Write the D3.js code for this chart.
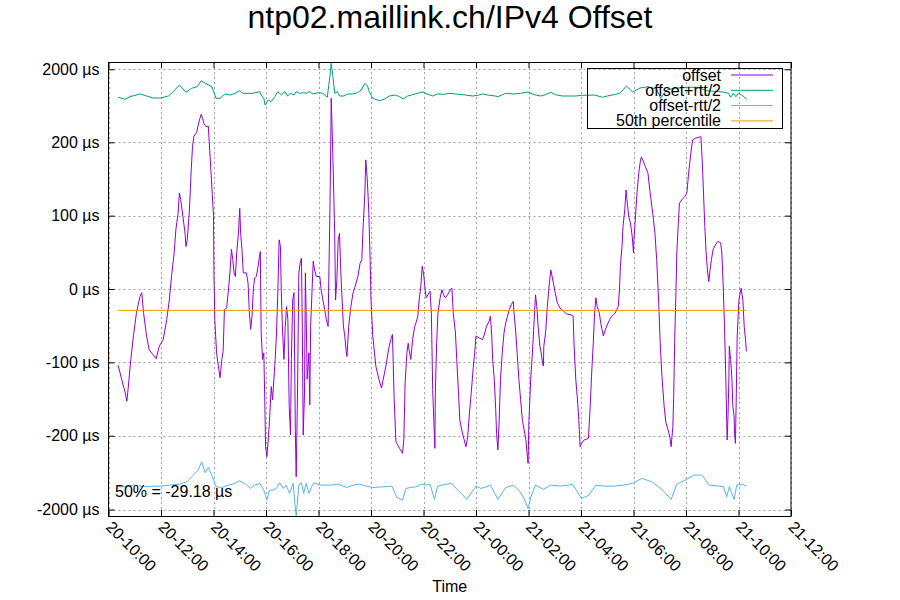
<!DOCTYPE html>
<html><head><meta charset="utf-8">
<script src="https://cdn.jsdelivr.net/npm/d3@7"></script>
<style>body{margin:0;background:#fff}svg{display:block;font-family:"Liberation Sans",Arial,sans-serif}</style>
</head><body><svg id="c" width="900" height="600"></svg>
<script>
const title = "ntp02.maillink.ch/IPv4 Offset";
const xLabel = "Time";
const xStart = "20 10:00", xEnd = "21 12:00";
const yTickValues = [-2000, -200, -100, 0, 100, 200, 2000];
const yTickLabels = ["-2000 µs", "-200 µs", "-100 µs", "0 µs", "100 µs", "200 µs", "2000 µs"];
const medianValue = -29.18;
const medianLabel = "50% = -29.18 µs";
const seriesNames = ["offset", "offset+rtt/2", "offset-rtt/2", "50th percentile"];
const seriesColors = ["#9400d3", "#009e73", "#56b4e9", "#e69f00"];

const offsetTimes = ["20 10:22","20 10:30","20 10:38","20 10:42","20 10:45","20 10:51","20 10:57","20 11:04","20 11:12","20 11:16","20 11:20","20 11:27","20 11:33","20 11:41","20 11:49","20 11:56","20 12:05","20 12:13","20 12:19","20 12:24","20 12:30","20 12:34","20 12:39","20 12:42","20 12:45","20 12:50","20 12:55","20 12:57","20 13:00","20 13:05","20 13:09","20 13:12","20 13:15","20 13:22","20 13:25","20 13:29","20 13:32","20 13:35","20 13:38","20 13:43","20 13:48","20 13:50","20 13:54","20 13:57","20 14:00","20 14:01","20 14:03","20 14:07","20 14:11","20 14:15","20 14:19","20 14:22","20 14:25","20 14:30","20 14:35","20 14:38","20 14:41","20 14:44","20 14:47","20 14:50","20 14:53","20 14:57","20 15:00","20 15:02","20 15:05","20 15:08","20 15:15","20 15:19","20 15:22","20 15:25","20 15:28","20 15:31","20 15:34","20 15:38","20 15:42","20 15:45","20 15:47","20 15:49","20 15:52","20 15:55","20 15:57","20 15:59","20 16:02","20 16:05","20 16:08","20 16:12","20 16:15","20 16:18","20 16:21","20 16:24","20 16:27","20 16:30","20 16:33","20 16:35","20 16:38","20 16:41","20 16:44","20 16:47","20 16:50","20 16:53","20 16:56","20 16:58","20 17:01","20 17:04","20 17:07","20 17:09","20 17:12","20 17:15","20 17:18","20 17:21","20 17:23","20 17:25","20 17:28","20 17:30","20 17:32","20 17:34","20 17:38","20 17:40","20 17:42","20 17:45","20 17:48","20 17:51","20 17:55","20 18:03","20 18:06","20 18:10","20 18:14","20 18:18","20 18:22","20 18:23","20 18:26","20 18:28","20 18:29","20 18:31","20 18:34","20 18:37","20 18:39","20 18:42","20 18:45","20 18:48","20 18:51","20 18:54","20 18:57","20 19:00","20 19:03","20 19:05","20 19:09","20 19:14","20 19:19","20 19:24","20 19:30","20 19:35","20 19:39","20 19:42","20 19:46","20 19:48","20 19:51","20 19:53","20 19:55","20 19:58","20 20:00","20 20:04","20 20:08","20 20:11","20 20:18","20 20:24","20 20:28","20 20:34","20 20:40","20 20:45","20 20:49","20 20:53","20 20:57","20 21:05","20 21:12","20 21:15","20 21:18","20 21:22","20 21:25","20 21:27","20 21:31","20 21:35","20 21:40","20 21:43","20 21:47","20 21:50","20 21:54","20 21:57","20 22:00","20 22:03","20 22:06","20 22:10","20 22:15","20 22:18","20 22:21","20 22:24","20 22:26","20 22:27","20 22:30","20 22:33","20 22:38","20 22:42","20 22:46","20 22:50","20 22:55","20 23:01","20 23:05","20 23:08","20 23:13","20 23:16","20 23:20","20 23:23","20 23:28","20 23:33","20 23:37","20 23:41","20 23:45","20 23:49","20 23:54","20 23:57","21 00:00","21 00:08","21 00:15","21 00:20","21 00:24","21 00:30","21 00:33","21 00:36","21 00:38","21 00:42","21 00:45","21 00:47","21 00:50","21 00:53","21 00:56","21 01:00","21 01:04","21 01:08","21 01:12","21 01:16","21 01:21","21 01:25","21 01:27","21 01:31","21 01:34","21 01:38","21 01:42","21 01:46","21 01:50","21 01:54","21 01:56","21 01:59","21 02:01","21 02:05","21 02:09","21 02:13","21 02:16","21 02:19","21 02:22","21 02:26","21 02:29","21 02:32","21 02:34","21 02:35","21 02:39","21 02:43","21 02:47","21 02:51","21 02:54","21 02:57","21 03:01","21 03:06","21 03:12","21 03:20","21 03:27","21 03:37","21 03:42","21 03:44","21 03:48","21 03:52","21 03:55","21 03:58","21 04:01","21 04:07","21 04:17","21 04:21","21 04:24","21 04:28","21 04:31","21 04:34","21 04:37","21 04:42","21 04:45","21 04:48","21 04:51","21 04:56","21 05:00","21 05:05","21 05:09","21 05:14","21 05:18","21 05:22","21 05:25","21 05:28","21 05:30","21 05:34","21 05:36","21 05:40","21 05:43","21 05:45","21 05:49","21 05:53","21 05:57","21 06:00","21 06:01","21 06:04","21 06:08","21 06:12","21 06:16","21 06:18","21 06:21","21 06:27","21 06:33","21 06:38","21 06:44","21 06:49","21 06:53","21 06:58","21 07:01","21 07:05","21 07:10","21 07:14","21 07:19","21 07:23","21 07:26","21 07:30","21 07:32","21 07:34","21 07:37","21 07:39","21 07:42","21 07:45","21 07:51","21 07:57","21 08:02","21 08:06","21 08:11","21 08:15","21 08:21","21 08:29","21 08:34","21 08:37","21 08:40","21 08:43","21 08:46","21 08:49","21 08:52","21 08:55","21 08:58","21 09:02","21 09:07","21 09:13","21 09:19","21 09:22","21 09:25","21 09:28","21 09:31","21 09:33","21 09:34","21 09:36","21 09:38","21 09:39","21 09:42","21 09:45","21 09:47","21 09:50","21 09:51","21 09:53","21 09:55","21 09:57","21 10:01","21 10:04","21 10:06","21 10:10","21 10:13","21 10:16","21 10:18"];
const offsetValues = [-104,-123,-141,-153,-135,-96,-64,-32,-10,-5,-32,-64,-83,-89,-95,-78,-69,-42,-15,17,49,81,103,131,122,99,76,58,67,108,162,194,338,461,627,792,890,792,668,585,602,257,162,131,99,22,-42,-87,-105,-121,-96,-85,-28,-26,4,26,54,40,22,17,49,76,110,76,54,22,22,8,-33,-55,-37,-1,15,17,31,44,51,-60,-96,-87,-146,-469,-713,-305,-179,-133,-151,-123,-96,-60,-5,67,58,-5,-60,-96,-51,-24,-42,-160,-199,-96,-15,-5,-192,-1202,-142,22,35,42,-51,-199,-142,22,-42,-123,-87,-158,-51,-5,38,26,17,17,-1,-15,-28,-42,-51,-5,103,196,1285,585,153,76,-15,13,67,76,22,-15,-51,-64,-83,-92,-51,-24,-5,4,17,35,40,85,131,176,153,131,103,40,-15,-64,-87,-105,-123,-135,-123,-105,-83,-69,-62,-151,-347,-508,-630,-305,-128,-87,-74,-83,-96,-69,-51,-46,-37,-15,4,31,22,4,-12,-8,-3,-33,-137,-187,-508,-142,-74,-33,-12,-1,-8,-12,-8,-1,1,-33,-60,-96,-142,-179,-194,-305,-469,-224,-169,-142,-105,-87,-64,-67,-69,-60,-51,-44,-37,-64,-96,-125,-164,-197,-547,-179,-123,-87,-60,-46,-37,-28,-21,-17,-33,-60,-87,-123,-151,-179,-192,-305,-547,-875,-179,-123,-87,-42,-8,-24,-51,-78,-87,-101,-105,-78,-60,-24,4,26,17,8,-5,-19,-26,-30,-34,-35,-37,-74,-123,-151,-179,-469,-386,-305,-264,-160,-119,-74,-33,-12,-24,-33,-46,-55,-64,-55,-49,-42,-38,-35,-33,-28,-24,-1,31,60,85,108,135,122,99,90,72,49,67,94,131,158,176,180,176,167,158,131,103,76,40,-24,-74,-119,-160,-182,-192,-224,-469,-187,-142,-74,-5,49,85,117,122,126,131,158,185,257,299,323,338,176,131,85,49,26,10,26,40,54,60,65,63,49,4,-51,-123,-179,-305,-173,-123,-78,-96,-123,-160,-173,-197,-386,-142,-64,-15,-5,1,-15,-51,-69,-85];

const upperTimes = ["20 10:22","20 10:38","20 10:49","20 11:12","20 11:27","20 11:42","20 11:58","20 12:17","20 12:28","20 12:42","20 12:57","20 13:10","20 13:23","20 13:32","20 13:41","20 13:56","20 14:06","20 14:15","20 14:26","20 14:38","20 14:49","20 14:59","20 15:07","20 15:30","20 15:46","20 15:49","20 15:55","20 15:58","20 16:05","20 16:12","20 16:20","20 16:27","20 16:35","20 16:43","20 16:49","20 16:56","20 17:04","20 17:09","20 17:17","20 17:25","20 17:32","20 17:40","20 17:47","20 17:59","20 18:10","20 18:20","20 18:26","20 18:29","20 18:33","20 18:37","20 18:43","20 18:48","20 18:58","20 19:07","20 19:19","20 19:29","20 19:38","20 19:46","20 19:52","20 19:56","20 20:04","20 20:19","20 20:30","20 20:42","20 20:56","20 21:05","20 21:14","20 21:24","20 21:35","20 21:47","20 21:57","20 22:10","20 22:21","20 22:32","20 22:48","20 22:59","20 23:14","20 23:30","20 23:52","21 00:04","21 00:15","21 00:30","21 00:44","21 00:50","21 01:08","21 01:27","21 01:42","21 01:59","21 02:13","21 02:28","21 02:39","21 02:51","21 03:02","21 03:17","21 03:33","21 03:48","21 04:01","21 04:14","21 04:30","21 04:39","21 04:49","21 05:00","21 05:16","21 05:29","21 05:37","21 05:44","21 05:58","21 06:15","21 06:34","21 06:53","21 07:02","21 07:16","21 07:35","21 08:02","21 08:26","21 08:47","21 09:04","21 09:25","21 09:37","21 09:42","21 09:48","21 09:54","21 10:00","21 10:07","21 10:12","21 10:19"];
const upperValues = [1310,1260,1324,1391,1342,1292,1292,1342,1448,1613,1433,1532,1571,1719,1655,1571,1285,1285,1391,1366,1408,1472,1408,1408,1448,1366,1285,1120,1243,1201,1324,1448,1366,1448,1342,1408,1366,1448,1408,1423,1408,1448,1391,1423,1408,1310,1818,2148,1818,1408,1448,1342,1342,1391,1391,1423,1490,1655,1588,1448,1285,1226,1260,1342,1366,1324,1268,1342,1374,1408,1440,1384,1342,1391,1384,1408,1391,1374,1342,1359,1391,1359,1342,1324,1408,1391,1408,1440,1374,1342,1374,1433,1374,1342,1342,1342,1359,1359,1366,1342,1310,1342,1374,1408,1507,1588,1440,1539,1571,1507,1285,1490,1532,1556,1556,1472,1458,1440,1408,1310,1408,1324,1408,1366,1324,1260];

const lowerTimes = ["20 10:22","20 10:42","20 10:57","20 11:12","20 11:27","20 11:42","20 11:58","20 12:21","20 12:43","20 12:59","20 13:14","20 13:25","20 13:33","20 13:41","20 13:48","20 13:56","20 14:06","20 14:19","20 14:34","20 14:49","20 14:59","20 15:11","20 15:25","20 15:34","20 15:46","20 15:55","20 16:02","20 16:08","20 16:16","20 16:24","20 16:31","20 16:39","20 16:46","20 16:54","20 17:02","20 17:09","20 17:15","20 17:21","20 17:26","20 17:32","20 17:38","20 17:44","20 17:50","20 18:03","20 18:18","20 18:29","20 18:45","20 18:56","20 19:06","20 19:19","20 19:34","20 19:49","20 20:04","20 20:27","20 20:48","20 20:59","20 21:12","20 21:20","20 21:31","20 21:43","20 21:54","20 22:06","20 22:15","20 22:25","20 22:32","20 22:42","20 22:55","20 23:05","20 23:18","20 23:30","20 23:39","20 23:51","21 00:00","21 00:11","21 00:23","21 00:33","21 00:43","21 00:50","21 01:08","21 01:25","21 01:38","21 01:50","21 01:59","21 02:06","21 02:16","21 02:34","21 02:51","21 03:14","21 03:41","21 03:52","21 04:01","21 04:18","21 04:34","21 04:53","21 05:16","21 05:37","21 05:57","21 06:19","21 06:42","21 07:05","21 07:26","21 07:39","21 07:55","21 08:18","21 08:37","21 08:52","21 09:16","21 09:26","21 09:33","21 09:39","21 09:45","21 09:50","21 09:56","21 10:07","21 10:18"];
const lowerValues = [-1447,-1447,-1405,-1430,-1447,-1430,-1430,-1405,-1381,-1325,-1161,-1039,-836,-1105,-973,-1161,-1447,-1462,-1405,-1364,-1300,-1364,-1486,-1405,-1364,-1528,-1772,-1528,-1528,-1486,-1349,-1486,-1405,-1608,-1364,-2180,-1405,-1349,-1608,-1364,-1608,-1447,-1349,-1405,-1405,-1405,-1381,-1430,-1462,-1405,-1381,-1430,-1462,-1447,-1430,-1706,-1772,-1486,-1462,-1447,-1381,-1405,-1381,-1755,-1430,-1405,-1381,-1364,-1528,-1650,-1755,-1569,-1430,-1486,-1447,-1405,-1608,-1755,-1462,-1405,-1528,-1731,-1975,-1674,-1405,-1511,-1405,-1430,-1388,-1569,-1731,-1650,-1405,-1430,-1430,-1405,-1364,-1242,-1325,-1511,-1755,-1381,-1300,-1161,-1161,-1405,-1430,-1447,-1691,-1447,-1608,-1755,-1405,-1381,-1430];

// ---------- layout ----------
const W = 900, H = 600;
const plotL = 108.5, plotR = 791, plotT = 62, plotB = 516;
const parse = d3.timeParse("%d %H:%M");
const fmt = d3.timeFormat("%d-%H:%M");
const svg = d3.select("#c");

const x = d3.scaleTime().domain([parse(xStart), parse(xEnd)]).range([plotL, plotR]);
const y = d3.scaleLinear().domain([-2000, -200, 200, 2000]).range([509.5, 435.7, 142.3, 69.3]);

const mk = (ts, vs) => ts.map((t, i) => ({ t: parse(t), v: vs[i] }));
const offsetData = mk(offsetTimes, offsetValues);
const upperData = mk(upperTimes, upperValues);
const lowerData = mk(lowerTimes, lowerValues);
const medianData = [offsetData[0].t, offsetData[offsetData.length - 1].t].map(t => ({ t, v: medianValue }));

svg.append("rect").attr("width", W).attr("height", H).attr("fill", "#fff");

// grid
const xTicks = x.ticks(d3.timeHour.every(2));
const grid = svg.append("g").attr("stroke", "#a0a0a0").attr("stroke-width", 1).attr("stroke-dasharray", "2,3");
grid.selectAll("line.h").data(yTickValues).join("line")
  .attr("x1", plotL).attr("x2", plotR)
  .attr("y1", d => Math.round(y(d)) + 0.5).attr("y2", d => Math.round(y(d)) + 0.5);
grid.selectAll("line.v").data(xTicks).join("line")
  .attr("y1", plotT).attr("y2", plotB)
  .attr("x1", d => Math.round(x(d)) + 0.5).attr("x2", d => Math.round(x(d)) + 0.5);

// clip
svg.append("clipPath").attr("id", "clip").append("rect")
  .attr("x", plotL).attr("y", plotT).attr("width", plotR - plotL).attr("height", plotB - plotT);

const line = d3.line().x(d => x(d.t)).y(d => y(d.v));
const plot = svg.append("g").attr("clip-path", "url(#clip)").attr("fill", "none").attr("stroke-width", 1);
plot.append("path").datum(offsetData).attr("d", line).attr("stroke", seriesColors[0]);
plot.append("path").datum(upperData).attr("d", line).attr("stroke", seriesColors[1]);
plot.append("path").datum(lowerData).attr("d", line).attr("stroke", seriesColors[2]);
plot.append("path").datum(medianData).attr("d", line).attr("stroke", seriesColors[3]);

// axes
const yAxis = d3.axisLeft(y).tickValues(yTickValues)
  .tickFormat((d, i) => yTickLabels[i]).tickSize(-6).tickPadding(9);
const gy = svg.append("g").attr("transform", `translate(${plotL},0)`).call(yAxis);
gy.select(".domain").remove();
gy.selectAll("text").attr("font-size", 16).attr("fill", "#000").attr("font-family", '"Liberation Sans",Arial,sans-serif');
gy.selectAll("line").attr("stroke", "#000");

const gyR = svg.append("g").attr("transform", `translate(${plotR},0)`)
  .call(d3.axisRight(y).tickValues(yTickValues).tickFormat("").tickSize(-6));
gyR.select(".domain").remove();

const xAxis = d3.axisBottom(x).tickValues(xTicks).tickFormat(fmt).tickSize(-6);
const gx = svg.append("g").attr("transform", `translate(0,${plotB})`).call(xAxis);
gx.select(".domain").remove();
gx.selectAll("line").attr("stroke", "#000");
gx.selectAll("text").attr("font-size", 16).attr("fill", "#000")
  .attr("font-family", '"Liberation Sans",Arial,sans-serif')
  .attr("text-anchor", "start").attr("dy", null).attr("y", null)
  .attr("transform", "translate(-4,12) rotate(45)");

const gxT = svg.append("g").attr("transform", `translate(0,${plotT})`)
  .call(d3.axisTop(x).tickValues(xTicks).tickFormat("").tickSize(-6));
gxT.select(".domain").remove();

// frame
svg.append("rect").attr("x", plotL).attr("y", plotT + 0.5).attr("width", plotR - plotL).attr("height", plotB - plotT)
  .attr("fill", "none").attr("stroke", "#000").attr("stroke-width", 1);

// median label
svg.append("text").attr("x", 115).attr("y", 497).attr("font-size", 16).text(medianLabel);

// legend
const lg = svg.append("g");
lg.append("rect").attr("x", 587.5).attr("y", 68.5).attr("width", 195).attr("height", 60)
  .attr("fill", "none").attr("stroke", "#000");
seriesNames.forEach((n, i) => {
  const cy = 75 + i * 15.3;
  lg.append("text").attr("x", 721).attr("y", cy + 5.5).attr("text-anchor", "end").attr("font-size", 16).text(n);
  lg.append("line").attr("x1", 731).attr("x2", 773).attr("y1", cy).attr("y2", cy)
    .attr("stroke", seriesColors[i]).attr("stroke-width", 1);
});

// titles
svg.append("text").attr("x", 450).attr("y", 28).attr("text-anchor", "middle").attr("font-size", 32).text(title);
svg.append("text").attr("x", (plotL + plotR) / 2).attr("y", 592).attr("text-anchor", "middle").attr("font-size", 16).text(xLabel);
</script></body></html>
